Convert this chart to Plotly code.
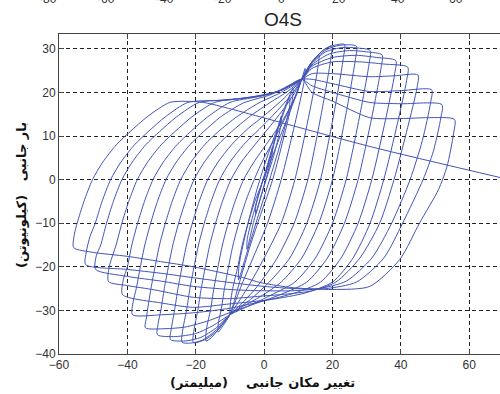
import plotly.graph_objects as go

# Cyclic lateral load test, specimen O4S.
# Digitised path: displacement (mm) and lateral load (kN), listed cycle by cycle.
# Each cycle list runs: unloading from the positive peak down to the negative
# peak, then reloading up to the next positive peak.

initial_disp = [0, 1.5, 2.5, 2.4, 1, -1, -2.5, -2.4, -0.5, 2, 4, 5, 4.9, 3, 0, -3, -5, -4.9,
                -2.5, 1, 4, 6.5, 7.5, 7.4, 5, 2, -2, -5.5, -7.5, -7.3, -5, -2, 1, 4, 6.5, 8.5]
initial_load = [0, 4.5, 7.5, 6, 1.5, -4, -8, -6, -0.5, 5.5, 11.5, 14.5, 12.5, 6, -1.5, -9.5, -16, -13.5,
                -6, 3.5, 11.5, 17, 19, 16.5, 9, 1, -9, -18, -23, -19.5, -11, -2, 5.5, 12, 17.5, 21]

cycle_disp = [
    [8.2, 6, 2.5, -1, -4, -7, -10,
     -9.8, -9.2, -7.7, -6.4, -4.7, -2.7, -0.2, 2.5, 5.5, 8.5, 11, 12],
    [11.7, 9, 5, 1, -3, -6.5, -10, -12, -13.5,
     -13.3, -12.6, -11.6, -10.4, -9.1, -7.4, -5.4, -2.9, 0, 3.5, 7, 9.5, 11, 13.5, 16],
    [15.7, 13, 9, 5, 0, -5, -10, -13, -15.5, -17,
     -16.8, -15.7, -14.7, -13.5, -12.2, -10.5, -8.5, -6, -3, 1, 5, 8.5, 11, 14, 17, 19.8],
    [19.5, 16.8, 12.8, 8.8, 3.8, -2, -6, -10, -13.5, -17, -20.7,
     -20.5, -19.4, -18.4, -17.2, -15.9, -14.2, -12.2, -9.7, -6.7, -2.7, 1.5, 6, 9, 11, 14, 17.5, 20.5, 23.5],
    [23.2, 20.5, 16.5, 12.5, 7.5, 1.5, -4, -10, -14, -18, -21.5, -24,
     -23.8, -22.7, -21.7, -20.5, -19.2, -17.5, -15.5, -13, -10, -6, -1.5, 3.5, 8, 11, 14, 18, 22, 27],
    [26.7, 24, 20, 16, 11, 5, -1, -6, -10, -14, -18.5, -23, -27.4,
     -27.1, -26.2, -25.2, -24, -22.7, -21, -19, -16.5, -13.5, -9.5, -5, 0.5, 6, 11, 14, 18, 23, 27, 31],
    [30.7, 28, 24, 20, 15, 9, 2, -4, -10, -15, -20, -26, -31.2,
     -31, -30.2, -29.2, -28, -26.7, -25, -23, -20.5, -17.5, -13.5, -9.5, -4, 2, 7, 11, 14, 19, 25, 30, 34.5],
    [34.2, 31.5, 27.5, 23.5, 18.5, 12.5, 5, -2, -10, -16, -23, -29, -34.7,
     -34.4, -33.1, -31.9, -30.6, -28.9, -26.9, -24.4, -21.4, -17.4, -13.4, -8, -1.5, 5, 11, 14, 20, 27, 33,
     38.5],
    [38.2, 35.5, 31.5, 27.5, 22.5, 16.5, 9, 0, -10, -20, -30, -38.5,
     -38.3, -37.4, -36.2, -34.9, -33.2, -31.2, -28.7, -25.7, -21.7, -17.7, -12.7, -6, 2, 11, 14, 20, 28, 35,
     42],
    [41.7, 39, 35, 31, 26, 20, 12, 2, -10, -20.7, -30, -41.4,
     -41.2, -40, -38.7, -37, -35, -32.5, -29.5, -25.5, -21.5, -16.5, -10, -2, 5, 11, 14, 20, 30.9, 38, 45],
    [44.7, 42, 38, 33.8, 28, 21, 14, 6, -2, -10, -20.7, -32, -40, -45.5,
     -45.3, -43.3, -41.6, -39.6, -37.1, -34.1, -30.1, -26.1, -21.1, -14.5, -6, 3, 11, 14, 20, 30.9, 40, 49],
    [48.7, 46.3, 42.7, 37.3, 31.5, 24, 16, 8, 0, -8, -20.7, -30, -40, -49.3,
     -49.1, -47.8, -46.1, -44.1, -41.6, -38.6, -34.6, -30.6, -25.6, -19, -10, 0, 6, 11, 14, 20, 30.9, 40, 52],
    [51.7, 49.5, 46.5, 40.5, 35, 27, 18, 9, 0, -10, -20.7, -30, -40, -52.2,
     -52, -50.9, -49.4, -47.4, -44.9, -41.9, -37.9, -33.9, -28.9, -22.3, -13, -3, 5, 11, 14, 20, 30.9, 40, 48,
     55.7],
    [55.4, 53.5, 51, 45.5, 39.7, 30.9, 20, 8.5, -1.2, -6, -20.7, -30.3, -40, -50, -55.7],
]
cycle_load = [
    [18, 10.5, 0, -8, -15, -23, -31,
     -28, -25, -20, -15, -10, -5, 0, 5.5, 11.5, 17.5, 23, 25.5],
    [22.5, 12.8, 0, -10, -17.5, -24, -31, -33.5, -35,
     -32.5, -30, -25, -20, -15, -10, -5, 0, 5, 10, 15.5, 19.5, 23, 26.5, 28.5],
    [25.5, 14.3, 0, -10, -18, -25, -31, -34, -36.3, -37,
     -34, -30, -25, -20, -15, -10, -5, 0, 4, 8.5, 13, 18, 23, 27, 29.5, 30.7],
    [27.7, 15.4, 0, -10, -18, -24.5, -28, -31, -34.5, -36.6, -37.4,
     -34.5, -30, -25, -20, -15, -10, -5, 0, 4, 8, 12, 16.5, 20, 23, 27, 29.8, 30.8, 31],
    [28, 15.5, 0, -10, -18, -23.5, -27.5, -31, -34.5, -36.8, -37.5, -37.3,
     -34.5, -30, -25, -20, -15, -10, -5, 0, 4, 8, 11.5, 15.5, 19.5, 23, 26.8, 29.7, 30.8, 30.6],
    [27.6, 15.3, 0, -10, -18, -23.5, -26.8, -29, -31, -34, -36.2, -37, -36.7,
     -34, -30, -25, -20, -15, -10, -5, 0, 4, 8, 11.5, 15, 18.8, 23, 26.6, 29.3, 30.3, 30.2, 29.6],
    [26.6, 14.8, 0, -10, -18, -23.5, -26.5, -28.8, -31, -33.5, -35.3, -36, -35.6,
     -33, -30, -25, -20, -15, -10, -5, 0, 4, 8, 11, 14.6, 17.8, 20.3, 23, 26.3, 28.8, 29.6, 29.3, 28.6],
    [25.6, 14.3, 0, -10, -18, -23.5, -26.3, -28.3, -30.5, -32.3, -33.8, -34.2, -34,
     -31.5, -25, -20, -15, -10, -5, 0, 4, 8, 11, 14.4, 17.6, 20, 23, 26, 28, 28.5, 28, 27.3],
    [24.3, 13.7, 0, -10, -18, -23.5, -26, -27.8, -29.5, -30.5, -31, -31,
     -28, -25, -20, -15, -10, -5, 0, 4, 8, 11, 14.4, 17.6, 19.5, 23, 25.5, 27, 27, 26.5, 25.8],
    [22.8, 12.9, 0, -10, -18, -23.5, -26, -27.5, -28.5, -29.3, -28.3, -26.4,
     -23, -20, -15, -10, -5, 0, 4, 8, 11, 14.4, 17.7, 19, 20.5, 23, 24.3, 24.3, 23.6, 23.8, 24],
    [21, 12, 0, -10, -18, -23.5, -25.5, -26.3, -26.8, -27.3, -27, -25.3, -24.3, -23.4,
     -20, -15, -10, -5, 0, 4, 8, 11, 14.4, 17.7, 18.7, 20, 23, 23, 22, 20.2, 20.4, 20.6],
    [17.7, 9, 0, -10, -18, -23.3, -25, -25.5, -25.5, -25.3, -24.5, -23.3, -22.2, -20.6,
     -17.5, -15, -10, -5, 0, 4, 8, 11, 14.4, 17.7, 18.3, 19.3, 20.8, 23, 21.5, 20, 17.7, 17.4, 17.2],
    [14.2, 6.5, 0, -10, -18, -23.5, -25, -25, -24.5, -23.6, -22.5, -21.5, -20.6, -19.5,
     -16.5, -13, -10, -5, 0, 4, 8, 11, 14.4, 17.7, 18.2, 19, 20.5, 23, 20, 18, 14.2, 14, 14.2, 13.8],
    [10.5, 3, -2.3, -9.9, -18.3, -24.5, -25.2, -24.8, -23.6, -22.5, -20, -18.8, -17.6, -16.7, -15.6],
]

# last reloading, then the monotonic push to failure
final_disp = [-55.5, -54.7, -52.7, -50.2, -47.2, -43.2, -39.2, -34.2, -27.6, -20.7, -17, 30.9, 70]
final_load = [-12.5, -10, -5, 0, 4, 8, 11, 14.4, 17.7, 17.9, 17.6, 7.6, 0.3]

x_ticks = [-60, -40, -20, 0, 20, 40, 60]
y_ticks = [-40, -30, -20, -10, 0, 10, 20, 30]
upper_panel_ticks = [-80, -60, -40, -20, 0, 20, 40, 60]

title_text = "O4S"
x_title = "تغییر مکان جانبی\u00a0\u00a0\u00a0\u00a0(میلیمتر)"
y_title = "بار جانبی\u00a0\u00a0\u00a0(کیلونیوتن)"

disp = list(initial_disp)
load = list(initial_load)
for dx, ly in zip(cycle_disp, cycle_load):
    disp += dx
    load += ly
disp += final_disp
load += final_load

W, H = 500, 394
M_L, M_R, M_T, M_B = 59, 0, 34, 40
plot_w = W - M_L - M_R
plot_h = H - M_T - M_B

fig = go.Figure()
fig.add_trace(go.Scatter(
    x=disp, y=load, mode="lines",
    line=dict(color="#4254b8", width=1, shape="spline", smoothing=0.7),
    hoverinfo="skip", showlegend=False,
))

axis_common = dict(
    showline=True, linecolor="#444", linewidth=1,
    ticks="inside", ticklen=5, tickcolor="#444", tickwidth=1,
    showgrid=True, gridcolor="#222", gridwidth=1, griddash="4px,3px",
    zeroline=False,
    tickfont=dict(family="Arial, Liberation Sans, sans-serif", size=12, color="#333"),
)

fig.update_layout(
    width=W, height=H,
    margin=dict(l=M_L, r=M_R, t=M_T, b=M_B),
    paper_bgcolor="white", plot_bgcolor="white",
    title=dict(text=title_text, x=(283 - M_L) / plot_w, xref="paper", xanchor="center",
               y=1 - 19.5 / H, yref="container", yanchor="middle",
               font=dict(family="Arial, Liberation Sans, sans-serif", size=19, color="#222")),
    xaxis=dict(range=[-60, 69], tickvals=x_ticks, mirror="ticks", **axis_common),
    yaxis=dict(range=[-40, -40 + plot_h / 4.36], tickvals=y_ticks, mirror=False, **axis_common),
)

# axis titles (Persian)
fig.add_annotation(text="<b>" + x_title + "</b>", xref="paper", yref="paper",
                   x=(262 - M_L) / plot_w, y=(H - M_B - 382) / plot_h,
                   xanchor="center", yanchor="middle", showarrow=False,
                   font=dict(family="DejaVu Sans", size=13, color="#111"))
fig.add_annotation(text="<b>" + y_title + "</b>", xref="paper", yref="paper",
                   x=(21 - M_L) / plot_w, y=(H - M_B - 195) / plot_h,
                   xanchor="center", yanchor="middle", textangle=-90, showarrow=False,
                   font=dict(family="DejaVu Sans", size=13, color="#111"))

# tick labels of the panel above, cut off by the page edge
for v in upper_panel_ticks:
    px = 48 + (v + 80) * (456 - 48) / 140
    fig.add_annotation(text=str(v), xref="paper", yref="paper",
                       x=(px - M_L) / plot_w, y=(H - M_B + 1) / plot_h,
                       xanchor="center", yanchor="middle", showarrow=False,
                       font=dict(family="Arial, Liberation Sans, sans-serif", size=12, color="#333"))

fig.write_html("out.html")
